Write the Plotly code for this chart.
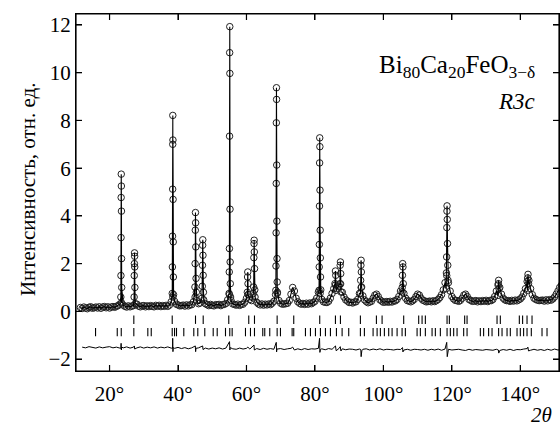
import plotly.graph_objects as go

# ---------------- data ----------------
# observed background / broad features, sampled every 0.5 deg starting at 11.5 deg
bg_start = 11.5
bg_step = 0.5
bg_int = [
    0.16, 0.12, 0.18, 0.14, 0.11, 0.17, 0.19, 0.13, 0.15, 0.18,   # 11.5-16.0
    0.14, 0.19, 0.13, 0.18, 0.20, 0.15, 0.19, 0.14, 0.18, 0.20,   # 16.5-21.0
    0.17, 0.21, 0.24, 0.30, 0.36, 0.26, 0.21, 0.18, 0.23, 0.19,   # 21.5-26.0
    0.22, 0.24, 0.32, 0.30, 0.22, 0.19, 0.23, 0.24, 0.19, 0.23,   # 26.5-31.0
    0.20, 0.24, 0.21, 0.19, 0.25, 0.21, 0.25, 0.20, 0.24, 0.21,   # 31.5-36.0
    0.25, 0.21, 0.26, 0.40, 0.60, 0.42, 0.30, 0.27, 0.23, 0.24,   # 36.5-41.0
    0.26, 0.22, 0.27, 0.23, 0.27, 0.28, 0.40, 0.60, 0.45, 0.32,   # 41.5-46.0
    0.35, 0.55, 0.48, 0.32, 0.28, 0.24, 0.29, 0.25, 0.23, 0.28,   # 46.5-51.0
    0.27, 0.29, 0.24, 0.28, 0.29, 0.33, 0.48, 0.70, 0.45, 0.31,   # 51.5-56.0
    0.29, 0.26, 0.30, 0.25, 0.29, 0.30, 0.38, 0.55, 0.70, 0.50,   # 56.5-61.0
    0.45, 0.75, 0.60, 0.38, 0.31, 0.27, 0.31, 0.26, 0.30, 0.27,   # 61.5-66.0
    0.31, 0.28, 0.34, 0.42, 0.70, 0.75, 0.45, 0.34, 0.30, 0.31,   # 66.5-71.0
    0.32, 0.34, 0.45, 0.72, 1.00, 0.85, 0.55, 0.40, 0.34, 0.30,   # 71.5-76.0
    0.33, 0.29, 0.34, 0.30, 0.35, 0.32, 0.37, 0.42, 0.55, 0.80,   # 76.5-81.0
    0.75, 0.50, 0.40, 0.38, 0.37, 0.42, 0.55, 0.75, 0.95, 1.10,   # 81.5-86.0
    0.95, 1.05, 1.15, 0.80, 0.60, 0.48, 0.43, 0.37, 0.38, 0.35,   # 86.5-91.0
    0.39, 0.40, 0.50, 0.75, 1.00, 0.65, 0.48, 0.41, 0.36, 0.39,   # 91.5-96.0
    0.42, 0.55, 0.68, 0.72, 0.62, 0.48, 0.43, 0.38, 0.39, 0.41,   # 96.5-101.0
    0.38, 0.42, 0.39, 0.43, 0.44, 0.50, 0.62, 0.85, 1.00, 0.75,   # 101.5-106.0
    0.55, 0.45, 0.43, 0.40, 0.44, 0.50, 0.62, 0.72, 0.68, 0.55,   # 106.5-111.0
    0.47, 0.44, 0.40, 0.41, 0.43, 0.40, 0.44, 0.41, 0.45, 0.50,   # 111.5-116.0
    0.58, 0.70, 0.90, 1.20, 1.50, 1.20, 0.85, 0.62, 0.52, 0.46,   # 116.5-121.0
    0.45, 0.42, 0.46, 0.55, 0.68, 0.72, 0.62, 0.50, 0.46, 0.42,   # 121.5-126.0
    0.43, 0.45, 0.40, 0.44, 0.41, 0.45, 0.42, 0.46, 0.41, 0.45,   # 126.5-131.0
    0.45, 0.50, 0.62, 0.85, 1.10, 1.00, 0.72, 0.55, 0.48, 0.45,   # 131.5-136.0
    0.45, 0.42, 0.46, 0.43, 0.47, 0.44, 0.48, 0.52, 0.60, 0.75,   # 136.5-141.0
    0.95, 1.25, 1.30, 0.95, 0.70, 0.55, 0.50, 0.47, 0.45, 0.46,   # 141.5-146.0
    0.47, 0.43, 0.48, 0.44, 0.49, 0.47, 0.52, 0.60, 0.72, 0.85,   # 146.5-151.0
    1.00, 1.10,                                                   # 151.5-152.0
]

# observed points on the Bragg peaks
peak_2theta = [
    23.30, 23.33, 23.36, 23.39, 23.42, 23.45, 23.48, 23.51, 23.55,
    27.18, 27.22, 27.26, 27.30, 27.33, 27.36, 27.40,
    38.32, 38.36, 38.40, 38.44, 38.46, 38.48, 38.52, 38.56, 38.60, 38.64, 38.70,
    44.95, 45.00, 45.05, 45.10, 45.15, 45.20, 45.27, 45.35,
    47.10, 47.15, 47.20, 47.24, 47.29, 47.35, 47.42,
    54.92, 54.97, 55.02, 55.06, 55.09, 55.12, 55.15, 55.19, 55.23, 55.28, 55.35,
    60.25, 60.32, 60.38, 60.45, 60.52,
    62.10, 62.16, 62.21, 62.25, 62.30, 62.36, 62.43,
    68.58, 68.62, 68.66, 68.70, 68.73, 68.76, 68.80, 68.84, 68.88, 68.92, 68.97, 69.03,
    81.20, 81.25, 81.29, 81.33, 81.37, 81.40, 81.44, 81.48, 81.53, 81.58, 81.63, 81.70,
    85.85, 85.99, 86.08, 86.18,
    87.30, 87.38, 87.45, 87.53, 87.62,
    93.30, 93.36, 93.43, 93.49, 93.56, 93.64,
    105.48, 105.56, 105.64, 105.71, 105.80,
    118.35, 118.42, 118.48, 118.53, 118.57, 118.60, 118.66, 118.73, 118.80, 118.88,
    133.50, 133.58, 133.67, 133.78,
    142.05, 142.15, 142.25, 142.38,
]
peak_int = [
    0.60, 1.50, 3.09, 4.77, 5.75, 5.25, 4.20, 2.21, 1.00,
    0.60, 1.50, 2.00, 2.45, 2.31, 1.86, 1.00,
    0.75, 1.86, 3.15, 5.12, 7.00, 8.21, 7.18, 4.69, 2.91, 1.44, 0.70,
    1.02, 2.00, 3.40, 4.14, 3.71, 2.70, 1.38, 0.80,
    1.05, 1.93, 2.77, 3.00, 2.35, 1.51, 0.80,
    0.75, 1.65, 2.63, 7.34, 10.84, 11.93, 9.97, 4.28, 2.07, 1.16, 0.60,
    0.80, 1.44, 1.65, 1.16, 0.70,
    1.02, 2.25, 2.84, 2.98, 2.49, 1.79, 0.90,
    0.88, 1.90, 3.29, 5.36, 7.90, 9.37, 8.88, 6.13, 3.78, 2.21, 1.23, 0.80,
    0.88, 1.86, 2.80, 4.41, 6.22, 7.27, 6.90, 5.08, 3.40, 2.24, 1.44, 0.90,
    1.16, 1.69, 1.51, 0.88,
    1.16, 1.93, 2.07, 1.58, 0.81,
    0.74, 1.30, 1.93, 2.14, 1.65, 1.02,
    0.81, 1.51, 2.00, 1.86, 1.16,
    0.95, 1.61, 2.28, 3.51, 4.20, 4.42, 3.85, 2.84, 1.93, 1.30,
    0.67, 1.16, 1.30, 0.95,
    0.88, 1.40, 1.55, 1.16,
]

# Bragg reflection positions (two rows of tick marks)
refl_row1 = [27.09, 38.31, 45.11, 47.36, 54.83, 60.67, 62.34, 68.96, 73.81,
             81.40, 85.99, 87.45, 93.28, 97.96, 99.62, 105.93, 110.31, 111.30,
             112.26, 118.60, 119.27, 123.74, 124.44, 133.20, 134.16, 139.71,
             140.67, 141.96, 143.42]
refl_row2 = [15.91, 22.25, 23.42, 27.09, 31.18, 32.18, 38.31, 38.98, 39.56,
             41.69, 44.61, 45.78, 47.82, 50.28, 51.45, 53.87, 55.12, 55.82,
             59.71, 61.17, 62.34, 64.76, 65.34, 66.80, 68.96, 69.93, 73.34,
             73.81, 77.23, 78.69, 80.15, 81.61, 83.07, 84.53, 86.28, 87.94,
             89.87, 93.28, 94.45, 96.99, 98.16, 99.12, 100.29, 101.55, 102.54,
             104.00, 105.46, 106.42, 109.84, 110.80, 112.26, 114.22, 115.18,
             116.64, 118.60, 119.56, 120.53, 121.52, 123.45, 124.44, 128.32,
             129.28, 130.74, 131.74, 133.66, 134.66, 136.12, 137.08, 139.04,
             140.00, 140.96, 141.96, 143.21, 146.34, 147.80]
refl_row1_level = -0.35
refl_row2_level = -0.87

# difference curve (obs - calc, shifted)
diff_2theta = [
    12, 13, 14, 15, 16, 17, 18, 19, 20, 21, 22, 23,
    23.30, 23.38, 23.45, 23.55, 24, 25, 26, 27, 27.25, 27.35, 28, 29, 30,
    31, 32, 33, 34, 35, 36, 37, 38, 38.40, 38.45, 38.52, 38.60, 39, 40,
    41, 42, 43, 44, 45.05, 45.15, 45.25, 46, 47.20, 47.30, 48, 49, 50,
    51, 52, 53, 54, 55.05, 55.15, 55.25, 56, 57, 58, 59, 60, 60.40, 61,
    62.20, 62.30, 63, 64, 65, 66, 67, 68, 68.70, 68.80, 68.90, 70, 71,
    72, 73, 73.50, 74, 75, 76, 77, 78, 79, 80, 81, 81.35, 81.45, 81.60,
    82, 83, 84, 85, 86.00, 86.20, 87, 87.40, 87.60, 88, 89, 90, 91, 92,
    93, 93.40, 93.50, 93.70, 94, 95, 96, 97, 98, 99, 100, 101, 102, 103,
    104, 105, 105.60, 105.70, 106, 107, 108, 109, 110, 111, 112, 113,
    114, 115, 116, 117, 118, 118.50, 118.65, 118.80, 119, 120, 121, 122,
    123, 124, 125, 126, 127, 128, 129, 130, 131, 132, 133, 133.60,
    133.70, 134, 135, 136, 137, 138, 139, 140, 141, 142, 142.20, 142.40,
    143, 144, 145, 146, 147, 148, 149, 150, 151, 152,
]
diff_int = [
    -1.50, -1.53, -1.48, -1.52, -1.54, -1.49, -1.53, -1.50, -1.48, -1.53, -1.50, -1.54,
    -1.55, -1.34, -1.62, -1.50, -1.53, -1.49, -1.54, -1.50, -1.45, -1.58, -1.53, -1.49, -1.54,
    -1.50, -1.53, -1.49, -1.54, -1.50, -1.53, -1.49, -1.54, -1.55, -1.13, -1.69, -1.52, -1.55, -1.51,
    -1.56, -1.52, -1.57, -1.53, -1.45, -1.69, -1.55, -1.53, -1.45, -1.60, -1.54, -1.58, -1.54,
    -1.57, -1.53, -1.58, -1.54, -1.27, -1.62, -1.52, -1.57, -1.59, -1.54, -1.58, -1.55, -1.50, -1.58,
    -1.41, -1.62, -1.56, -1.60, -1.55, -1.59, -1.56, -1.59, -1.30, -1.70, -1.58, -1.56, -1.60,
    -1.57, -1.55, -1.50, -1.62, -1.57, -1.61, -1.56, -1.60, -1.57, -1.58, -1.55, -1.13, -1.72, -1.60,
    -1.57, -1.61, -1.56, -1.59, -1.45, -1.65, -1.56, -1.48, -1.66, -1.57, -1.61, -1.58, -1.59, -1.62,
    -1.58, -1.60, -1.90, -1.65, -1.59, -1.57, -1.62, -1.58, -1.61, -1.57, -1.62, -1.59, -1.60, -1.62,
    -1.59, -1.60, -1.52, -1.70, -1.62, -1.59, -1.63, -1.59, -1.60, -1.62, -1.59, -1.63,
    -1.59, -1.62, -1.58, -1.63, -1.58, -1.30, -1.90, -1.62, -1.59, -1.62, -1.61, -1.59,
    -1.62, -1.64, -1.59, -1.63, -1.60, -1.61, -1.63, -1.60, -1.61, -1.63, -1.59, -1.62,
    -1.75, -1.64, -1.60, -1.63, -1.59, -1.64, -1.60, -1.61, -1.58, -1.56, -1.50, -1.66,
    -1.63, -1.59, -1.63, -1.60, -1.64, -1.59, -1.63, -1.58, -1.62, -1.60,
]

x_tick_vals = [20, 40, 60, 80, 100, 120, 140]
x_tick_text = ["20°", "40°", "60°", "80°", "100°", "120°", "140°"]
y_tick_vals = [-2, 0, 2, 4, 6, 8, 10, 12]
y_tick_text = ["−2", "0", "2", "4", "6", "8", "10", "12"]

# ---------------- assemble ----------------
bg_2theta = [bg_start + bg_step * i for i in range(len(bg_int))]
obs = sorted(zip(bg_2theta + peak_2theta, bg_int + peak_int))
obs_x = [p[0] for p in obs]
obs_y = [p[1] for p in obs]
dd = sorted(zip(diff_2theta, diff_int))

FONT = "Liberation Serif"
W, H = 560, 430
ML, MR, MT, MB = 76, 1, 14, 59
PW, PH = W - ML - MR, H - MT - MB
TICK = 6  # px

fig = go.Figure()
fig.add_trace(go.Scatter(
    x=obs_x, y=obs_y, mode="markers",
    marker=dict(symbol="circle-open", size=6.5, color="#222",
                line=dict(width=1, color="#222")),
    showlegend=False))
fig.add_trace(go.Scatter(
    x=obs_x, y=obs_y, mode="lines",
    line=dict(color="black", width=1.1), showlegend=False))
fig.add_trace(go.Scatter(
    x=refl_row1, y=[refl_row1_level] * len(refl_row1), mode="markers",
    marker=dict(symbol="line-ns", size=6, line=dict(width=1.1, color="black")),
    showlegend=False))
fig.add_trace(go.Scatter(
    x=refl_row2, y=[refl_row2_level] * len(refl_row2), mode="markers",
    marker=dict(symbol="line-ns", size=6, line=dict(width=1.1, color="black")),
    showlegend=False))
fig.add_trace(go.Scatter(
    x=[p[0] for p in dd], y=[p[1] for p in dd], mode="lines",
    line=dict(color="black", width=1), showlegend=False))

tick_font = dict(family=FONT, size=21, color="black")

fig.update_layout(
    template="none",
    width=W, height=H,
    margin=dict(l=ML, r=MR, t=MT, b=MB, pad=0, autoexpand=False),
    paper_bgcolor="white", plot_bgcolor="white",
    font=dict(family=FONT, color="black"),
    hovermode=False,
    xaxis=dict(range=[10.2, 151.3], tickmode="array", tickvals=x_tick_vals,
               ticktext=x_tick_text, showgrid=False, zeroline=False,
               showline=True, linecolor="black", linewidth=1, mirror="ticks",
               ticks="inside", ticklen=TICK, tickwidth=1, tickcolor="black",
               tickfont=tick_font, automargin=False, ticklabelstandoff=4),
    yaxis=dict(range=[-2.5, 12.46], tickmode="array", tickvals=y_tick_vals,
               ticktext=y_tick_text, showgrid=False, zeroline=False,
               showline=True, linecolor="black", linewidth=1, mirror="ticks",
               ticks="inside", ticklen=TICK, tickwidth=1, tickcolor="black",
               tickfont=tick_font, automargin=False),
)

# frame and tick marks as shapes (tied to the axes' own scales)
fig.add_shape(type="rect", xref="paper", yref="paper", x0=0, x1=1, y0=0, y1=1,
              line=dict(color="black", width=1.2), layer="above")
for v in x_tick_vals:
    fig.add_shape(type="line", xref="x", yref="paper", x0=v, x1=v,
                  y0=0, y1=TICK / PH, line=dict(color="black", width=1.2))
    fig.add_shape(type="line", xref="x", yref="paper", x0=v, x1=v,
                  y0=1 - TICK / PH, y1=1, line=dict(color="black", width=1.2))
for v in y_tick_vals:
    fig.add_shape(type="line", xref="paper", yref="y", y0=v, y1=v,
                  x0=0, x1=TICK / PW, line=dict(color="black", width=1.2))
    fig.add_shape(type="line", xref="paper", yref="y", y0=v, y1=v,
                  x0=1 - TICK / PW, x1=1, line=dict(color="black", width=1.2))

fig.add_annotation(text="Интенсивность, отн. ед.", textangle=-90,
                   xref="paper", yref="paper", x=-0.099, y=0.51,
                   xanchor="center", yanchor="middle", showarrow=False,
                   font=dict(family=FONT, size=21, color="black"))
fig.add_annotation(text="<i>2θ</i>", xref="paper", yref="paper",
                   x=0.99, y=-0.163, xanchor="right", yanchor="bottom",
                   showarrow=False, font=dict(family=FONT, size=21, color="black"))
fig.add_annotation(text="Bi<sub>80</sub>Ca<sub>20</sub>FeO<sub>3−δ</sub>",
                   xref="paper", yref="paper", x=0.954, y=0.854,
                   xanchor="right", yanchor="middle", showarrow=False,
                   font=dict(family=FONT, size=25, color="black"))
fig.add_annotation(text="<i>R3c</i>", xref="paper", yref="paper",
                   x=0.954, y=0.756, xanchor="right", yanchor="middle",
                   showarrow=False, font=dict(family=FONT, size=23, color="black"))

fig.write_html(
    "out.html",
    config={"displayModeBar": False, "staticPlot": True},
    post_script="document.body.style.margin='0px';"
                "document.body.style.overflow='hidden';",
)
